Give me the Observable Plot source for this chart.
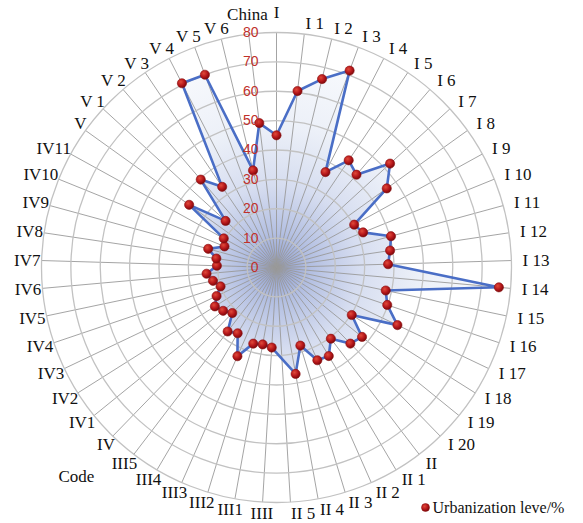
<!DOCTYPE html>
<html><head><meta charset="utf-8">
<script src="https://cdn.jsdelivr.net/npm/d3@7"></script>
<script src="https://cdn.jsdelivr.net/npm/@observablehq/plot@0.6"></script>
<style>
body{margin:0;background:#fff}
#chart{position:relative;width:583px;height:523px}
</style>
</head><body><div id="chart"></div>
<script>
const categories = ["I","I 1","I 2","I 3","I 4","I 5","I 6","I 7","I 8","I 9","I 10","I 11","I 12","I 13","I 14","I 15","I 16","I 17","I 18","I 19","I 20",
  "II","II 1","II 2","II 3","II 4","II 5","IIII","III1","III2","III3","III4","III5",
  "IV","IV1","IV2","IV3","IV4","IV5","IV6","IV7","IV8","IV9","IV10","IV11",
  "V","V 1","V 2","V 3","V 4","V 5","V 6","China"];
const values = [45,60.5,66,71.5,36.5,44,41.7,52.4,46.2,30.2,31.8,40.4,39.1,38,76,38,39.8,45.6,30.3,37.5,36.1,
  30.5,35,34.5,27.8,36.8,null,27.3,26.6,27.1,33,26,27.4,
  21.6,23.4,24.8,22.6,20.1,22.1,23.9,20.3,20.7,24.1,19.1,20.5,
  36.6,23.5,39.5,33.1,70.5,70,34,49.5];
const radialTicks = [0,10,20,30,40,50,60,70,80];
const seriesName = "Urbanization leve/%";
const axisTitle = "Code";

const W = 583, H = 523;
const maxV = 80;
const xDomain = [-maxV, maxV], xRange = [41, 511];
const yDomain = [-maxV, maxV], yRange = [502, 32];

const n = categories.length;
const ang = i => 2 * Math.PI * i / n;
const X = (v, i) => v * Math.sin(ang(i));
const Y = (v, i) => v * Math.cos(ang(i));

const pts = categories.map((c, i) => ({c, i, v: values[i]})).filter(d => d.v != null);
const cats = categories.map((c, i) => ({c, i, s: Math.sin(ang(i)), k: Math.cos(ang(i))}));
const labV = 83.8;
const labRight = cats.filter(d => d.s > 0.05);
const labLeft = cats.filter(d => d.s < -0.13);
const labMid = cats.filter(d => d.s <= 0.05 && d.s >= -0.13);
const labMidTop = labMid.filter(d => d.k > 0);
const labMidBottom = labMid.filter(d => d.k <= 0);
const rings = radialTicks.filter(t => t > 0);

const labelFont = {fontFamily: "Liberation Serif, Times New Roman, serif", fontSize: 17, fill: "#111"};
const lx = d => X(labV, d.i), ly = d => Y(labV, d.i);

const chart = Plot.plot({
  width: W, height: H,
  margin: 0,
  x: {domain: xDomain, range: xRange, axis: null},
  y: {domain: yDomain, range: yRange, axis: null},
  r: {type: "linear", domain: [0, maxV], range: [0, (xRange[1] - xRange[0]) / 2]},
  style: {background: "white", overflow: "visible"},
  marks: [
    Plot.line(pts, {x: d => X(d.v, d.i), y: d => Y(d.v, d.i), curve: "linear-closed", fill: "url(#radGrad)", stroke: "none"}),
    Plot.link(cats, {x1: () => 0, y1: () => 0, x2: d => X(maxV, d.i), y2: d => Y(maxV, d.i), stroke: "#9a9a9a", strokeWidth: 0.9}),
    Plot.dot(rings, {x: () => 0, y: () => 0, r: d => d, fill: "none", stroke: "#c2c2c2", strokeWidth: 1.3}),
    Plot.line(pts, {x: d => X(d.v, d.i), y: d => Y(d.v, d.i), curve: "linear-closed", stroke: "#4a6ec6", strokeWidth: 2.6}),
    Plot.dot(pts, {x: d => X(d.v, d.i), y: d => Y(d.v, d.i), r: 4.6, fill: "url(#dotGrad)", stroke: "#8a0d0d", strokeWidth: 0.6}),
    Plot.text(radialTicks, {x: () => 0, y: d => d, text: d => String(d), textAnchor: "end", dx: -18, fill: "#c0302a", fontSize: 14, fontFamily: "Liberation Sans, Arial, sans-serif"}),
    Plot.text(labMidTop, {x: lx, y: ly, text: "c", textAnchor: "middle", lineAnchor: "bottom", dy: -3, ...labelFont}),
    Plot.text(labMidBottom, {x: lx, y: ly, text: "c", textAnchor: "middle", lineAnchor: "middle", ...labelFont}),
    Plot.text(labRight, {x: lx, y: ly, text: "c", textAnchor: "start", lineAnchor: "middle", ...labelFont}),
    Plot.text(labLeft, {x: lx, y: ly, text: "c", textAnchor: "end", lineAnchor: "middle", dx: 10, ...labelFont}),
    Plot.text([axisTitle], {frameAnchor: "top-left", dx: 58, dy: 476, text: d => d, textAnchor: "start", lineAnchor: "middle", ...labelFont}),
    Plot.dot([seriesName], {frameAnchor: "top-left", dx: 425, dy: 507, r: 4, fill: "url(#dotGrad)", stroke: "#8a0d0d", strokeWidth: 0.5}),
    Plot.text([seriesName], {frameAnchor: "top-left", dx: 432, dy: 507, text: d => d, textAnchor: "start", lineAnchor: "middle", fontFamily: "Liberation Serif, Times New Roman, serif", fontSize: 16, fill: "#111"})
  ]
});

const sx = d3.scaleLinear(xDomain, xRange), sy = d3.scaleLinear(yDomain, yRange);
const ns = "http://www.w3.org/2000/svg";
const svg = chart.tagName.toLowerCase() === "svg" ? chart : chart.querySelector("svg");
const defs = document.createElementNS(ns, "defs");
function grad(id, attrs, stops) {
  const g = document.createElementNS(ns, "radialGradient");
  g.setAttribute("id", id);
  for (const [k, v] of Object.entries(attrs)) g.setAttribute(k, v);
  for (const [o, c] of stops) {
    const s = document.createElementNS(ns, "stop");
    s.setAttribute("offset", o); s.setAttribute("stop-color", c);
    g.appendChild(s);
  }
  defs.appendChild(g);
}
grad("radGrad", {gradientUnits: "userSpaceOnUse", cx: sx(0), cy: sy(0), r: sx(maxV) - sx(0)},
  [[0, "#8e9ccb"], [0.15, "#b4c0e2"], [0.35, "#d6ddf0"], [0.6, "#ecf0f8"], [1, "#fbfcfe"]]);
grad("dotGrad", {cx: "0.38", cy: "0.35", r: "0.65"}, [[0, "#e04a3a"], [0.6, "#b5161a"], [1, "#7d0a0c"]]);
svg.insertBefore(defs, svg.firstChild);

document.getElementById("chart").appendChild(chart);
</script>
</body></html>
